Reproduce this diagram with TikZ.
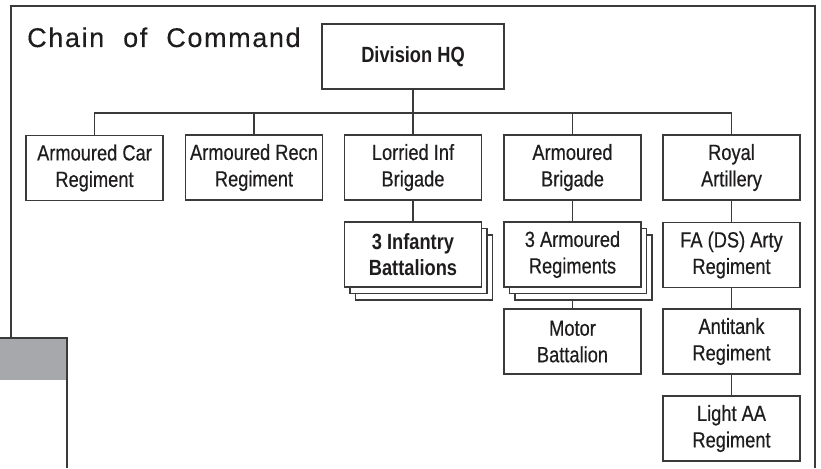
\documentclass[tikz,border=0pt]{standalone}
\usepackage{fontspec}
\setmainfont{Liberation Sans}
\newfontfamily\boxfont[FakeStretch=0.83,FakeBold=0.4]{Liberation Sans}
\newfontfamily\boxbold[FakeStretch=0.83]{Liberation Sans}
\newfontfamily\titlefont[LetterSpace=6,FakeBold=0.3]{Liberation Sans}
\usetikzlibrary{shadows,backgrounds}
\definecolor{linec}{HTML}{3A3A3A}
\definecolor{txt}{HTML}{1E1C1D}
\definecolor{graybox}{HTML}{A7A8AB}
\begin{document}
\begin{tikzpicture}[x=1pt,y=-1pt,
  unit/.style={draw=linec, line width=1.3pt, fill=white, minimum width=137pt, minimum height=65pt,
    inner sep=0pt, align=center, text=txt, font=\boxfont\fontsize{22}{26.5}\selectfont},
  strong/.style={font=\boxbold\bfseries\fontsize{22}{26.5}\selectfont},
  stack/.style={unit, double copy shadow={shadow xshift=5.5pt, shadow yshift=-6.5pt, draw=linec, fill=white, line width=1.3pt}},
  conn/.style={draw=linec, line width=1.3pt}]
\useasboundingbox (0,0) rectangle (821,468);
% frame and grey tab
\fill[graybox] (0,338) rectangle (67,380);
\draw[conn] (11,338) -- (11,6) -- (815,6) -- (815,468);
\draw[conn] (0,338) -- (67,338) -- (67,468);
% title
\node[anchor=base west, inner sep=0pt, text=txt, font=\titlefont\fontsize{27}{30}\selectfont] (title) at (27,47) {Chain\hspace{19pt}of\hspace{19pt}Command};
% nodes
\node[unit, strong, minimum width=182pt] (hq) at (413,56.5) {Division HQ};
\node[unit] (car) at (94.5,168) {Armoured Car\\Regiment};
\node[unit] (recn) at (254,167.5) {Armoured Recn\\Regiment};
\node[unit] (lorr) at (413,167.5) {Lorried Inf\\Brigade};
\node[unit] (abde) at (572.5,167.5) {Armoured\\Brigade};
\node[unit] (ra) at (731.5,167.5) {Royal\\Artillery};
\node[stack, strong] (inf) at (413,254.5) {3 Infantry\\Battalions};
\node[stack] (arm3) at (572.5,254.5) {3 Armoured\\Regiments};
\node[unit] (fa) at (731.5,255) {FA (DS) Arty\\Regiment};
\node[unit] (motor) at (572.5,341.5) {Motor\\Battalion};
\node[unit] (at) at (731.5,341.5) {Antitank\\Regiment};
\node[unit] (laa) at (731.5,428.5) {Light AA\\Regiment};
\coordinate (bus) at (413,113);
\begin{scope}[on background layer]
\draw[conn] (hq.south) -- (bus);
\draw[conn] (car.north) -- (car.north |- bus) -- (ra.north |- bus) -- (ra.north);
\draw[conn] (recn.north) -- (recn.north |- bus);
\draw[conn] (lorr.north) -- (lorr.north |- bus);
\draw[conn] (abde.north) -- (abde.north |- bus);
\draw[conn] (lorr.south) -- (inf.north);
\draw[conn] (abde.south) -- (arm3.north);
\draw[conn] (arm3.south) -- (motor.north);
\draw[conn] (ra.south) -- (fa.north);
\draw[conn] (fa.south) -- (at.north);
\draw[conn] (at.south) -- (laa.north);
\end{scope}
\end{tikzpicture}
\end{document}
